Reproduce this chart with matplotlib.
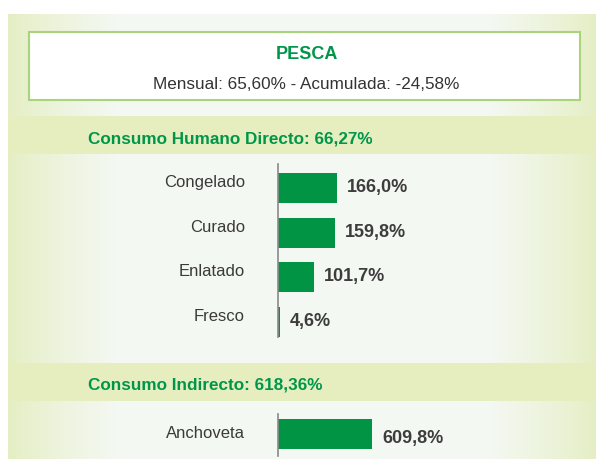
import numpy as np
import matplotlib
matplotlib.use("Agg")
import matplotlib.pyplot as plt
from matplotlib.patches import Rectangle

# datos
titulo = "PESCA"
subtitulo = "Mensual: 65,60% - Acumulada: -24,58%"

seccion1 = "Consumo Humano Directo: 66,27%"
cat1 = ["Congelado", "Curado", "Enlatado", "Fresco"]
val1 = [166.0, 159.8, 101.7, 4.6]

seccion2 = "Consumo Indirecto: 618,36%"
cat2 = ["Anchoveta"]
val2 = [609.8]

W, H = 596, 459
VERDE = "#00964a"
BANDA = "#e6eec0"
ARIAL = ["Liberation Sans", "DejaVu Sans"]
HOLGURA = 1.12  # sin fuente condensada: algo mas ancho que el original


def fmt(v):
    return f"{v:.1f}".replace(".", ",") + "%"


fig = plt.figure(figsize=(W / 100, H / 100), dpi=100)
fig.patch.set_facecolor("white")
renderer = fig.canvas.get_renderer()


def ajustar(txt, ancho_px):
    # la fuente original es condensada: se ajusta el cuerpo al ancho
    w = txt.get_window_extent(renderer).width
    txt.set_fontsize(txt.get_fontsize() * ancho_px * HOLGURA / w)
    return txt.get_fontsize()


# fondo en coordenadas de pixel
bg = fig.add_axes([0, 0, 1, 1])
bg.set_xlim(0, W)
bg.set_ylim(H, 0)
bg.axis("off")

# degradado horizontal del panel
xs = np.arange(8, W)
borde = np.array([0xe4, 0xee, 0xc2]) / 255
centro = np.array([0xf4, 0xf8, 0xf2]) / 255
t = np.interp(xs, [8, 115, 490, W], [0, 1, 1, 0]) ** 0.8
grad = borde[None, :] * (1 - t[:, None]) + centro[None, :] * t[:, None]
bg.imshow(grad[None, :, :], extent=(8, W, H, 14), aspect="auto", zorder=0)

# cabecera
bg.add_patch(Rectangle((29, 32), 551, 68, facecolor="white",
                       edgecolor="#a8d47c", lw=1.5, zorder=1))
bg.text(307, 59, titulo, ha="center", va="baseline", color=VERDE,
        fontsize=13, fontweight="bold", family=ARIAL)
st = bg.text(306, 89, subtitulo, ha="center", va="baseline", color="#333333",
             fontsize=12, family=ARIAL)
ajustar(st, 273)

# bandas de seccion
for y0, txt, base, ancho in [(116, seccion1, 143, 254), (363, seccion2, 389, 209)]:
    bg.add_patch(Rectangle((8, y0), W - 8, 38, facecolor=BANDA,
                           edgecolor="none", zorder=1))
    tt = bg.text(88, base, txt, ha="left", va="baseline", color=VERDE,
                 fontsize=13.5, fontweight="bold", family=ARIAL)
    ajustar(tt, ancho)

# cuerpo de las etiquetas de categoria (medido sobre "Congelado")
prueba = bg.text(0, 0, "Congelado", fontsize=13, family=ARIAL)
FS_CAT = ajustar(prueba, 72)
prueba.remove()


def barras(cats, vals, x0, top, bottom, c0, paso, escala, dy_cat, dy_val):
    # x0, top, bottom en pixeles; escala = pixeles por unidad
    ancho = 250
    ax = fig.add_axes([x0 / W, 1 - bottom / H, ancho / W, (bottom - top) / H])
    ax.patch.set_alpha(0)
    ax.set_xlim(0, ancho / escala)
    ax.set_ylim((bottom - c0) / paso, (top - c0) / paso)
    pos = np.arange(len(cats))
    ax.barh(pos, vals, height=30 / paso, color="#009444")
    for s in ["top", "right", "bottom"]:
        ax.spines[s].set_visible(False)
    ax.spines["left"].set_color("#8a8a8a")
    ax.spines["left"].set_linewidth(1.2)
    ax.set_xticks([])
    ax.set_yticks([])
    for i, (c, v) in enumerate(zip(cats, vals)):
        ax.annotate(c, xy=(0, i), xycoords=("axes fraction", "data"),
                    xytext=(-33, -dy_cat), textcoords="offset pixels",
                    ha="right", va="baseline", color="#3a3a3a",
                    fontsize=FS_CAT, family=ARIAL)
        ax.annotate(fmt(v), xy=(v, i), xytext=(10, -dy_val),
                    textcoords="offset pixels", ha="left", va="baseline",
                    color="#3d3d3d", fontsize=13, fontweight="bold",
                    family=ARIAL)
    return ax


barras(cat1, val1, 278, 164, 337, 188, 44.67, 0.355, -1, 4)
barras(cat2, val2, 278, 414, 456, 434, 44.67, 0.154, 4, 9)

fig.savefig("out.png", dpi=100)
